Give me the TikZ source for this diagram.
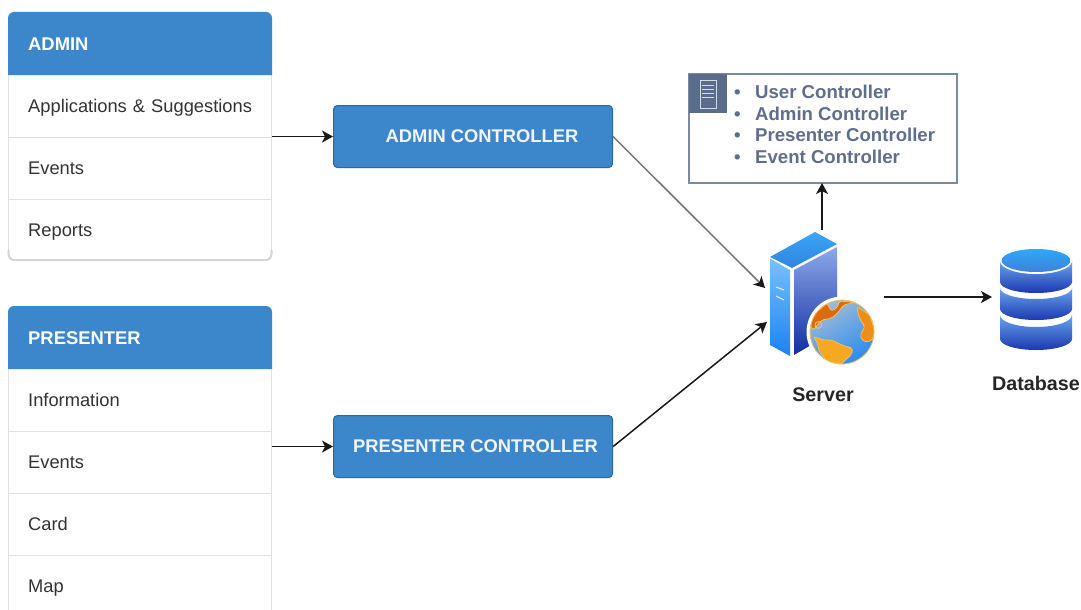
\documentclass[tikz,border=0pt]{standalone}
\usepackage{fontspec}
\setmainfont{Liberation Sans}
\usetikzlibrary{arrows.meta,calc}
\definecolor{hdrblue}{HTML}{3C87CB}
\definecolor{hdredge}{HTML}{2A6A9F}
\definecolor{rowline}{HTML}{E2E2E2}
\definecolor{rowtext}{HTML}{333333}
\definecolor{slate}{HTML}{5A6C8C}
\definecolor{slatetext}{HTML}{5F6E8C}
\definecolor{tiertop}{HTML}{6AA5EE}
\definecolor{tierbot}{HTML}{1A38B0}
\definecolor{capTop}{HTML}{2EA8F8}
\definecolor{capBot}{HTML}{4080DC}
\definecolor{srvTopA}{HTML}{3BA5F5}
\definecolor{srvTopB}{HTML}{2F84E0}
\definecolor{srvLeftA}{HTML}{7CC0FB}
\definecolor{srvLeftB}{HTML}{1A82F0}
\definecolor{srvRightA}{HTML}{8DA8E8}
\definecolor{srvRightB}{HTML}{1030A0}
\definecolor{oceanA}{HTML}{A3BBD6}
\definecolor{oceanB}{HTML}{2A8CF0}
\definecolor{landDark}{HTML}{DB6A10}
\definecolor{landMid}{HTML}{EE8E18}
\definecolor{landLight}{HTML}{F6A822}
\definecolor{landEdge}{HTML}{F5C060}
\tikzset{
  x=1pt,y=-1pt,
  rowcell/.style={anchor=north west,minimum width=264pt,minimum height=62pt,text width=224pt,text height=17pt,text depth=4pt,inner xsep=20pt,inner ysep=0pt,align=left,text=rowtext,font=\fontsize{18.3}{20}\selectfont},
  headcell/.style={rowcell,minimum height=63pt,text=white,font=\fontsize{18.4}{20}\selectfont\bfseries},
  hdrfill/.style={fill=hdrblue},
  sepline/.style={draw=rowline,line width=1pt},
  ctlbox/.style={anchor=north west,minimum width=279pt,minimum height=62pt,inner sep=0pt,draw=hdredge,fill=hdrblue,line width=1.1pt,rounded corners=4pt,text=white!92!hdrblue,font=\fontsize{18.35}{20}\selectfont\bfseries},
  arrowline/.style={draw=black!90,line width=1.5pt,-{Stealth[length=11pt,width=12pt,inset=3pt]}},
  greyarrow/.style={draw=black!55,line width=1.5pt,-{Stealth[length=11pt,width=12pt,inset=3pt,black!90]}},
  caption/.style={text=black!85,inner sep=0pt,font=\fontsize{19.7}{22}\selectfont\bfseries},
  ghost/.style={anchor=north west,inner sep=0pt,outer sep=0pt},
  land/.style={draw=landEdge,line width=.8pt,rounded corners=2pt}
}
\newcommand{\bulletrow}[1]{\makebox[21pt][l]{\textbullet}#1}
\begin{document}
\begin{tikzpicture}
\useasboundingbox (0,0) rectangle (1081,610);
\fill[white] (0,0) rectangle (1081,610);
% ADMIN panel
\draw[draw=rowline,line width=1pt] (8.5,75) -- (8.5,255) (271.5,75) -- (271.5,255);
\draw[draw=black!17,line width=2pt,rounded corners=6pt] (8.5,250) -- (8.5,260) -- (271.5,260) -- (271.5,250);
\fill[hdrfill] (8,75) [rounded corners=6pt] -- (8,12) -- (272,12) [sharp corners] -- (272,75) -- cycle;
\node[headcell] (adminhead) at (8,12) {ADMIN};
\node[rowcell] (adminapps) at (8,75) {Applications \& Suggestions};
\node[rowcell] (adminevents) at (8,137) {Events};
\node[rowcell] (adminreports) at (8,199) {Reports};
\draw[sepline] (adminevents.north west) -- (adminevents.north east);
\draw[sepline] (adminreports.north west) -- (adminreports.north east);
% PRESENTER panel
\draw[sepline] (8.5,369) -- (8.5,610) (271.5,369) -- (271.5,610);
\fill[hdrfill] (8,369) [rounded corners=6pt] -- (8,306) -- (272,306) [sharp corners] -- (272,369) -- cycle;
\node[headcell] (preshead) at (8,306) {PRESENTER};
\node[rowcell] (presinfo) at (8,369) {Information};
\node[rowcell] (presevents) at (8,431) {Events};
\node[rowcell] (prescard) at (8,493) {Card};
\node[rowcell] (presmap) at (8,555) {Map};
\draw[sepline] (presevents.north west) -- (presevents.north east);
\draw[sepline] (prescard.north west) -- (prescard.north east);
\draw[sepline] (presmap.north west) -- (presmap.north east);
% Controllers
\node[ctlbox] (adminctl) at (333,105) {\hspace{18pt}ADMIN CONTROLLER};
\node[ctlbox] (presctl) at (333,415) {\hspace{5pt}PRESENTER CONTROLLER};
% Info box
\node[ghost,minimum width=268pt,minimum height=109pt,draw=slate!80,line width=1.4pt,fill=white] (infobox) at (689,74) {};
\node[ghost,minimum width=38pt,minimum height=39pt,fill=slate] (infoicon) at (689,74) {};
\draw[white!75!slate,line width=1pt] (700.5,80.5) rectangle (716,108);
\draw[white!75!slate,line width=1pt] (702,85) -- (714,85) (702,89) -- (714,89) (702,93) -- (714,93) (702,97) -- (714,97);
\node[anchor=north west,inner sep=0pt,align=left,text=slatetext,font=\fontsize{18.6}{21.6}\selectfont\bfseries] (infolist) at (734,85)
 {\bulletrow{User Controller}\\\bulletrow{Admin Controller}\\\bulletrow{Presenter Controller}\\\bulletrow{Event Controller}};
% Server icon
\node[ghost,minimum width=105pt,minimum height=133pt] (server) at (769,232) {};
\shade[top color=srvTopA,bottom color=srvTopB] (770,257) -- (815,232) -- (837,244) -- (792,268) -- cycle;
\shade[top color=srvLeftA,bottom color=srvLeftB] (770,258.5) -- (790,270) -- (790,356) -- (770,345) -- cycle;
\shade[top color=srvRightA,bottom color=srvRightB] (794,270) -- (837,247) -- (837,330) -- (794,355) -- cycle;
\draw[white!80!srvLeftA,line width=1pt] (776,287) -- (784,290) (776,296) -- (784,300);
% Globe
\fill[white] (842,332) circle (35.5);
\shade[top color=oceanA,bottom color=oceanB,shading angle=30] (842,332) circle (32);
\begin{scope}
\clip (842,332) circle (32);
\begin{scope}[shift={(760,225)},x=.3333pt,y=-.3333pt]
\filldraw[land,fill=landDark] (150,300) -- (165,265) -- (200,235) -- (215,258) -- (232,248) -- (238,228) -- (285,232) -- (250,240) -- (235,262) -- (215,280) -- (185,285) -- (160,315) -- cycle;
\filldraw[land,fill=landMid] (290,245) -- (330,270) -- (345,320) -- (335,348) -- (310,350) -- (300,330) -- (315,305) -- (298,280) -- cycle;
\filldraw[land,fill=landLight] (160,335) -- (190,345) -- (215,345) -- (245,360) -- (278,370) -- (275,388) -- (240,420) -- (205,415) -- (178,380) -- (172,352) -- cycle;
\draw[landEdge,line width=.9pt] (175,300) circle (10);
\end{scope}
\end{scope}
\draw[landEdge,line width=.8pt] (842,332) circle (32);
% Database icon
\node[ghost,minimum width=72pt,minimum height=102pt] (db) at (1000,248) {};
\shade[top color=tiertop,bottom color=tierbot] (1000,315) -- (1000,339) arc[start angle=180,end angle=360,x radius=36,y radius=-11] -- (1072,315) arc[start angle=360,end angle=180,x radius=36,y radius=-12] -- cycle;
\shade[top color=tiertop,bottom color=tierbot] (1000,288) -- (1000,309) arc[start angle=180,end angle=360,x radius=36,y radius=-11] -- (1072,288) arc[start angle=360,end angle=180,x radius=36,y radius=-11] -- cycle;
\shade[top color=tiertop,bottom color=tierbot] (1000,261) -- (1000,282) arc[start angle=180,end angle=360,x radius=36,y radius=-11] -- (1072,282) -- (1072,261) -- cycle;
\fill[white] (1036,261) ellipse[x radius=36,y radius=13];
\shade[top color=capTop,bottom color=capBot] (1036,260.5) ellipse[x radius=34.5,y radius=11.5];
% Captions
\node[caption] (serverlabel) at (823,395) {Server};
\node[caption] (dblabel) at (1036,383) {Database};
% Connector ends on the icons
\coordinate (srvinA) at (765,288);
\coordinate (srvinB) at (767,322);
\coordinate (srvout) at (884,297);
\coordinate (dbin) at (992,297);
\coordinate (srvtop) at (822,230);
% Connectors
\draw[arrowline] (adminhead.south east |- adminctl.west) -- (adminctl.west);
\draw[arrowline] (presevents.east |- presctl.west) -- (presctl.west);
\draw[greyarrow] (adminctl.east) -- (srvinA);
\draw[arrowline] (presctl.east) -- (srvinB);
\draw[arrowline] (srvtop) -- (srvtop |- infobox.south);
\draw[arrowline] (srvout) -- (dbin);
\end{tikzpicture}
\end{document}
